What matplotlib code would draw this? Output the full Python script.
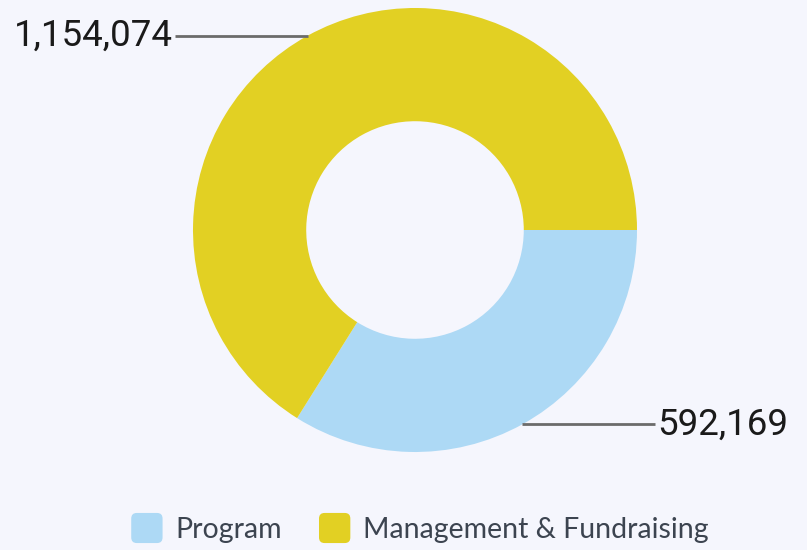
import matplotlib.pyplot as plt
import numpy as np
from matplotlib.patches import FancyBboxPatch, Patch
from matplotlib.legend_handler import HandlerPatch

categories = ['Program', 'Management & Fundraising']
values = [592169, 1154074]
colors = ['#ADD9F5', '#E2D023']
bg = '#F5F6FD'


def rounded_box(legend, orig_handle, xdescent, ydescent, width, height, fontsize):
    return FancyBboxPatch((-xdescent, -ydescent), width, height,
                          boxstyle='round,pad=0,rounding_size=4')


fig = plt.figure(figsize=(8.07, 5.5), dpi=100, facecolor=bg)
ax = fig.add_axes([0, 0, 1, 1])
ax.set_facecolor(bg)

cx, cy, r = 415, 320, 222
wedges, _ = ax.pie(values, colors=colors, startangle=0, counterclock=False,
                   radius=r, center=(cx, cy),
                   wedgeprops=dict(width=r * 0.51, linewidth=0))

for w, v in zip(wedges, values):
    ang = np.deg2rad((w.theta1 + w.theta2) / 2)
    x0 = cx + r * np.cos(ang)
    y0 = cy + r * np.sin(ang)
    side = 1 if np.cos(ang) > 0 else -1
    x1 = x0 + side * 133
    ax.plot([x0, x1], [y0, y0], color='#6b6b6b', lw=2, solid_capstyle='butt')
    ax.text(x1 + side * 2, y0, f'{v:,}', ha='left' if side > 0 else 'right',
            va='center', fontsize=26.5, family='Roboto', color='#1a1a1a')

ax.set_xlim(0, 807)
ax.set_ylim(0, 550)
ax.set_aspect('equal')
ax.axis('off')

handles = [Patch(facecolor=c, label=l) for c, l in zip(colors, categories)]
leg = fig.legend(handles=handles, loc='center', bbox_to_anchor=(420 / 807, 1 - 528 / 550),
                 ncol=2, frameon=False, prop={'family': 'Lato', 'size': 20.5},
                 handlelength=1.1, handleheight=1.25, handletextpad=0.45, columnspacing=1.3,
                 handler_map={Patch: HandlerPatch(patch_func=rounded_box)},
                 labelcolor='#3c4450')

fig.savefig('out.png', dpi=100, facecolor=bg)
